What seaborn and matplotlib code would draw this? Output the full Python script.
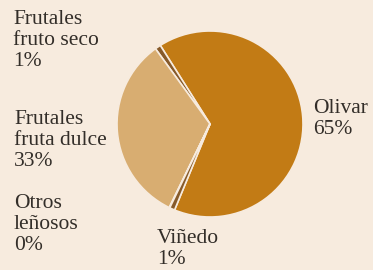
import matplotlib.pyplot as plt
import seaborn as sns

sns.set_style("white")
plt.rcParams['font.family'] = ['Liberation Serif', 'DejaVu Serif']

# counterclockwise from the bottom boundary of Olivar
categories = ["Olivar", "Frutales fruto seco", "Frutales fruta dulce", "Otros leñosos", "Viñedo"]
values = [65.2, 1.0, 32.8, 0.1, 0.9]
labels = ["Olivar\n65%", "Frutales\nfruto seco\n1%", "Frutales\nfruta dulce\n33%",
          "Otros\nleñosos\n0%", "Viñedo\n1%"]
colors = sns.color_palette(["#c27b15", "#875a2a", "#d8ad71", "#875a2a", "#875a2a"])

bg = "#f7ebde"
fig = plt.figure(figsize=(3.73, 2.70), dpi=100, facecolor=bg)
ax = fig.add_axes([117 / 373, 53 / 270, 186 / 373, 186 / 270])
ax.set_facecolor(bg)
ax.pie(values, colors=colors, startangle=-112.4, counterclock=True,
       wedgeprops=dict(edgecolor=bg, linewidth=1.2))
ax.set_xlim(-1.0, 1.0)
ax.set_ylim(-1.0, 1.0)
ax.set_aspect("equal")
ax.axis("off")

label_pos = {
    "Olivar": (313, 99),
    "Frutales fruto seco": (13, 10),
    "Frutales fruta dulce": (14, 110),
    "Otros leñosos": (14, 194),
    "Viñedo": (157, 229),
}
for cat, lab in zip(categories, labels):
    x, y = label_pos[cat]
    fig.text(x / 373, 1 - y / 270, lab, ha="left", va="top", fontsize=15.5,
             color="#332e29", linespacing=1.16)

fig.savefig("out.png", dpi=100, facecolor=bg)
